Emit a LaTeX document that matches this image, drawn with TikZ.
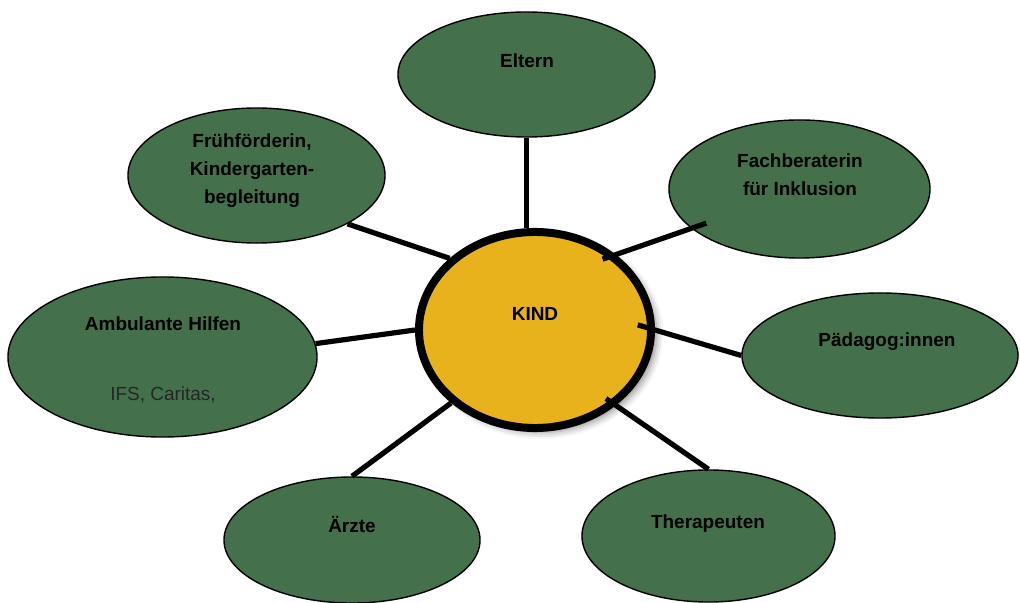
\documentclass[tikz,border=0pt]{standalone}
\usepackage{fontspec}
\setmainfont{Liberation Sans}
\usetikzlibrary{shapes.geometric,shadows.blur}
\definecolor{blattgruen}{HTML}{44704C}
\definecolor{kindgelb}{HTML}{E8B21D}

\begin{document}
\begin{tikzpicture}[
      x=0.025cm,y=-0.025cm,
      font=\fontsize{13.5}{20}\selectfont\bfseries,
      blatt/.style={ellipse,draw,line width=1pt,fill=blattgruen,inner sep=0pt},
      kern/.style ={ellipse,draw,line width=0.2cm,fill=kindgelb,inner sep=0pt,minimum width=5.8cm,minimum height=4.9cm,
                    blur shadow={shadow xshift=4pt,shadow yshift=-3pt,shadow blur radius=5pt,shadow opacity=45}},
      txt/.style  ={align=center,inner sep=0pt},
      link/.style ={line width=3.7pt}]
      \useasboundingbox (0,0) rectangle (1020,603);
      % Zentrum
      \node[kern] (kind) at (535,330) {};
      \node[txt] (kindt) at (535,314) {KIND};
      % Helper macro: Ellipse + Beschriftung
      \newcommand{\placeb}[6]{%
        \node[blatt,minimum width=#3cm,minimum height=#4cm] (#1) at (#2) {};
        \node[txt] (#1t) at (#5) {#6};
      }
      % Partner
      \placeb{eltern}{526.5,74.5}{6.425}{3.125}{527,61}{Eltern}
      \placeb{frueh}{256.5,175.5}{6.425}{3.375}{252,171}{Frühförderin,\\Kindergarten-\\begleitung}
      \placeb{fach}{799.5,189}{6.525}{3.45}{800,175}{Fachberaterin\\für Inklusion}
      \placeb{paed}{880,355.5}{6.9}{3.125}{887,342}{Pädagog:innen}
      \placeb{amb}{162.5,357}{7.725}{4.0}{163,324}{Ambulante Hilfen}
      \placeb{aerzte}{352,540}{6.4}{3.15}{352,524}{Ärzte}
      \placeb{ther}{708.5,536}{6.325}{3.3}{708,524}{Therapeuten}
      \node[txt,font=\fontsize{13.5}{20}\selectfont,text=black!85] (ambs) at (163,395) {IFS, Caritas,};
      % Verbindungen
      \draw[link] (eltern.south) -- (kind.north -| eltern.south);
      \draw[link] (frueh.-28) -- (kind.140);
      \draw[link,shorten <=-0.35cm,shorten >=-0.4cm] (kind.43) -- (fach.-160);
      \draw[link,shorten <=-0.45cm] (kind.east) -- (paed.west);
      \draw[link] (amb.5) -- (kind.west);
      \draw[link] (aerzte.north) -- (kind.-139);
      \draw[link,shorten >=-0.3cm] (ther.north) -- (kind.-43);
  \end{tikzpicture}
\end{document}
